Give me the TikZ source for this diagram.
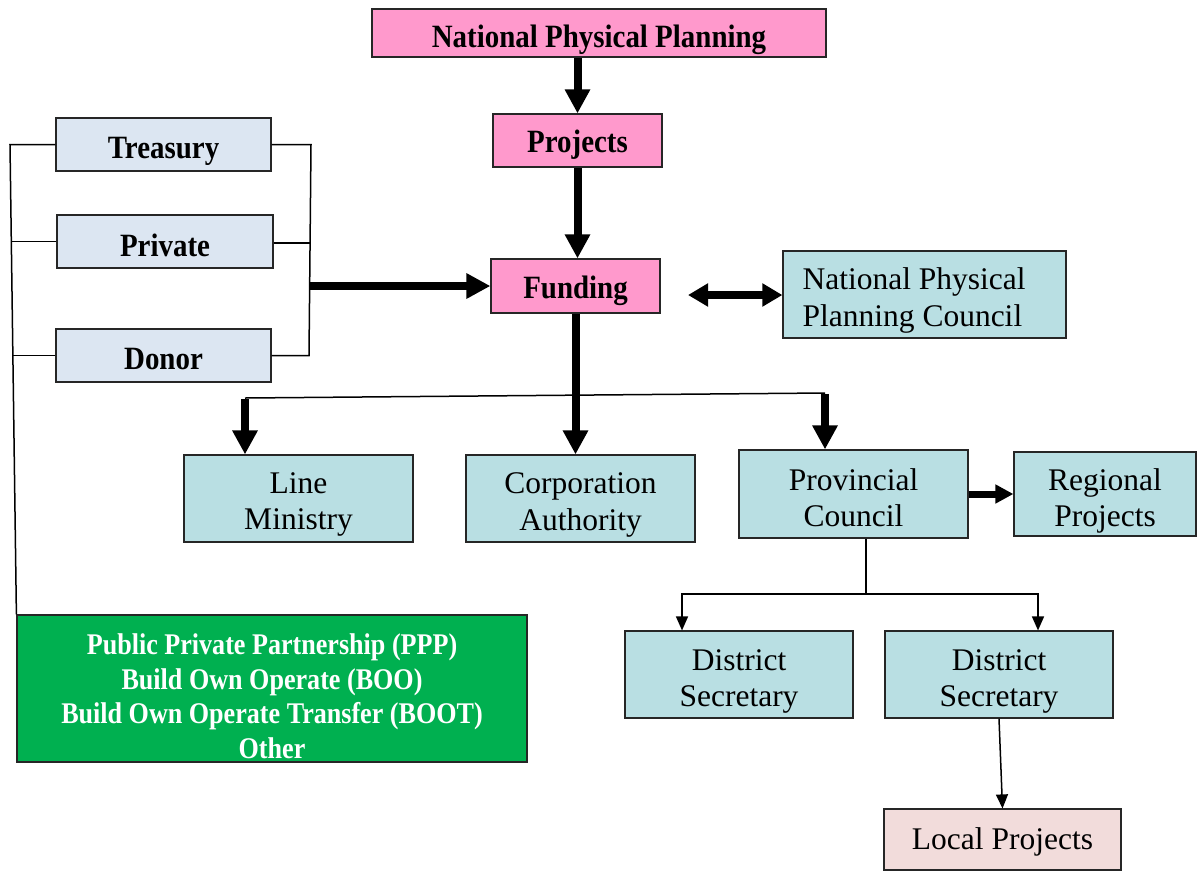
\documentclass[tikz,border=0pt]{standalone}
\usepackage{fontspec}
\setmainfont{Liberation Serif}
\newfontfamily\condfont[FakeStretch=0.89]{Liberation Serif}
\newfontfamily\condfontg[FakeStretch=0.87]{Liberation Serif}
\usetikzlibrary{arrows.meta}
\definecolor{pinkc}{HTML}{FF99CC}
\definecolor{greyblue}{HTML}{DCE6F2}
\definecolor{tealc}{HTML}{B9DFE3}
\definecolor{rosec}{HTML}{F2DCDB}
\definecolor{greenc}{HTML}{00B050}
\begin{document}
\begin{tikzpicture}[x=1pt,y=-1pt,
  box/.style={draw=black!85, line width=1.2pt, inner sep=0pt},
  pinkbox/.style={box, fill=pinkc},
  bluebox/.style={box, fill=greyblue},
  tealbox/.style={box, fill=tealc},
  rosebox/.style={box, fill=rosec},
  greenbox/.style={box, fill=greenc},
  boldtext/.style={inner sep=0pt, anchor=base, font=\condfont\bfseries\fontsize{32.5}{36}\selectfont},
  regtext/.style={inner sep=0pt, align=center, font=\fontsize{31.5}{36.5}\selectfont},
  greentext/.style={inner sep=0pt, align=center, text=white, font=\condfontg\bfseries\fontsize{30}{34.5}\selectfont},
  fat/.style={line width=8pt, -{Triangle[width=24pt,length=24pt]}},
  fatdouble/.style={line width=8pt, {Triangle[width=22pt,length=20pt]}-{Triangle[width=22pt,length=20pt]}},
  fatsmall/.style={line width=7pt, -{Triangle[width=18pt,length=18pt]}},
  conn/.style={line width=1.5pt},
  thinarrow/.style={line width=1.5pt, -{Triangle[width=12pt,length=14pt]}}
]
\useasboundingbox (0,0) rectangle (1198,871);

% boxes
\node[pinkbox, minimum width=454, minimum height=48] (npp) at (599,33) {};
\node[pinkbox, minimum width=169, minimum height=53] (proj) at (577.5,140.5) {};
\node[pinkbox, minimum width=169, minimum height=54] (fund) at (575.5,286) {};
\node[tealbox, minimum width=283, minimum height=87] (nppc) at (924.5,294.5) {};

\node[bluebox, minimum width=215, minimum height=53] (tre) at (163.5,144.5) {};
\node[bluebox, minimum width=216, minimum height=53] (pri) at (165,241.5) {};
\node[bluebox, minimum width=215, minimum height=53] (don) at (163.5,355.5) {};

\node[tealbox, minimum width=229, minimum height=87] (line) at (298.5,498.5) {};
\node[tealbox, minimum width=229, minimum height=87] (corp) at (580.5,498.5) {};
\node[tealbox, minimum width=229, minimum height=88] (prov) at (853.5,494) {};
\node[tealbox, minimum width=182, minimum height=84] (reg) at (1105,494) {};

\node[tealbox, minimum width=228, minimum height=87] (ds1) at (739,674.5) {};
\node[tealbox, minimum width=228, minimum height=87] (ds2) at (999,674.5) {};
\node[rosebox, minimum width=237, minimum height=61] (loc) at (1002.5,839.5) {};

\node[greenbox, minimum width=510, minimum height=147] (grn) at (272,688.5) {};

% texts
\node[boldtext] (npp-t) at (599,47) {National Physical Planning};
\node[boldtext] (proj-t) at (577.5,152.5) {Projects};
\node[boldtext] (fund-t) at (575.5,298) {Funding};
\node[boldtext] (tre-t) at (163.5,158) {Treasury};
\node[boldtext] (pri-t) at (165,256) {Private};
\node[boldtext] (don-t) at (163.5,369) {Donor};

\node[regtext, align=left, anchor=west] (nppc-t) at ([xshift=20pt,yshift=-6pt]nppc.west) {National Physical\\Planning Council};
\node[regtext] (line-t) at ([yshift=-6pt]line.center) {Line\\Ministry};
\node[regtext] (corp-t) at ([yshift=-6.5pt]corp.center) {Corporation\\Authority};
\node[regtext] (prov-t) at ([yshift=-3.5pt]prov.center) {Provincial\\Council};
\node[regtext] (reg-t) at ([yshift=-7pt]reg.center) {Regional\\Projects};
\node[regtext] (ds1-t) at ([yshift=-7pt]ds1.center) {District\\Secretary};
\node[regtext] (ds2-t) at ([yshift=-7pt]ds2.center) {District\\Secretary};
\node[regtext] (loc-t) at ([yshift=-2.5pt]loc.center) {Local Projects};
\node[greentext] (grn-t) at ([yshift=-7.5pt]grn.center)
  {Public Private Partnership (PPP)\\Build Own Operate (BOO)\\Build Own Operate Transfer (BOOT)\\Other};

% coordinates
\coordinate (rb1) at (311,144.5);
\coordinate (rb2) at (311,243);
\coordinate (rb3) at (309,355.5);
\coordinate (fa) at (309,286);
\coordinate (lb1) at (10,144.5);
\coordinate (lb2) at (11.4,241.5);
\coordinate (lb3) at (13.2,355.5);
\coordinate (da) at (688,295);
\coordinate (bl) at (245,398);
\coordinate (br) at (825,393);
\coordinate (pv) at (866,594);

% top chain
\draw[fat] (proj.north |- npp.south) -- (proj.north);
\draw[fat] (proj.south) -- (proj.south |- fund.north);

% right bracket
\draw[conn] (tre.east) -- (rb1) -- (rb3) -- (don.east);
\draw[conn] (pri.east |- rb2) -- (rb2);
\draw[fat] (fa) -- (fund.west);

% left bracket
\draw[conn] (tre.west) -- (lb1) -- (grn.north west);
\draw[conn] (pri.west) -- (lb2);
\draw[conn] (don.west) -- (lb3);

% double arrow
\draw[fatdouble] (da) -- (nppc.west |- da);

% funding distribution
\draw[fat] (fund.south) -- (fund.south |- corp.north);
\draw[conn] (bl) -- (br);
\draw[fat] ([yshift=-0.75pt]bl) -- (line.north -| bl);
\draw[fat] ([yshift=-0.75pt]br) -- (prov.north -| br);

\draw[fatsmall] (prov.east) -- (reg.west);

% provincial to districts
\draw[conn] (prov.south -| pv) -- (pv);
\draw[thinarrow] (pv) -| ([xshift=-57pt]ds1.north);
\draw[thinarrow] (pv) -| ([xshift=39pt]ds2.north);
\draw[thinarrow] (ds2.south) -- (loc.north);
\end{tikzpicture}
\end{document}
